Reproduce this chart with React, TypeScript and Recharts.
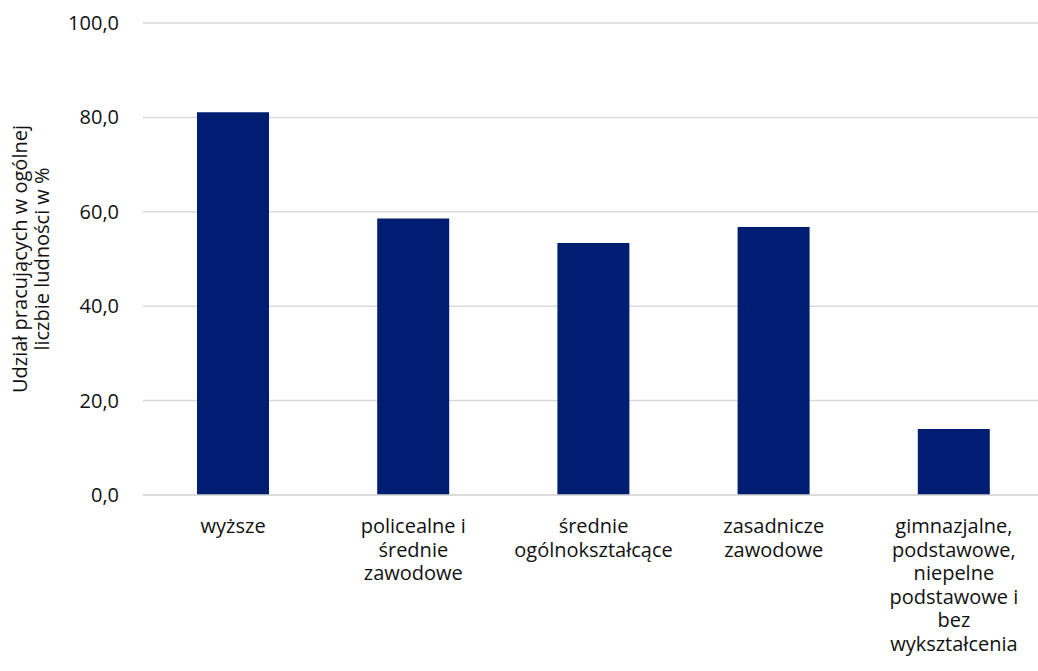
import { BarChart, Bar, XAxis, YAxis, CartesianGrid } from "recharts"

const categories = [
  "wyższe",
  "policealne i średnie zawodowe",
  "średnie ogólnokształcące",
  "zasadnicze zawodowe",
  "gimnazjalne, podstawowe, niepelne podstawowe i bez wykształcenia",
]
const categoryLines = [
  ["wyższe"],
  ["policealne i", "średnie", "zawodowe"],
  ["średnie", "ogólnokształcące"],
  ["zasadnicze", "zawodowe"],
  ["gimnazjalne,", "podstawowe,", "niepelne", "podstawowe i", "bez", "wykształcenia"],
]
const shares = [81.1, 58.6, 53.4, 56.8, 14.0]
const yTicks = [0, 20, 40, 60, 80, 100]
const yLabelLines = ["Udział pracujących w ogólnej", "liczbie ludności w %"]

const data = categories.map((name, i) => ({ name, value: shares[i] }))

const FONT = "'Open Sans', sans-serif"
const TEXT = "#111"

function XTick({ x, y, index }: any) {
  const lines = categoryLines[index] || []
  return (
    <g>
      {lines.map((l, i) => (
        <text
          key={i}
          x={x}
          y={y + 38 + i * 23.6}
          textAnchor="middle"
          fill={TEXT}
          fontSize={20}
          fontFamily={FONT}
        >
          {l}
        </text>
      ))}
    </g>
  )
}

function YTick({ x, y, payload }: any) {
  return (
    <text x={x - 24} y={y} dy={7} textAnchor="end" fill={TEXT} fontSize={20} fontFamily={FONT}>
      {payload.value.toFixed(1).replace(".", ",")}
    </text>
  )
}

function YLabel({ viewBox }: any) {
  const cy = viewBox.y + viewBox.height / 2
  return (
    <g>
      {yLabelLines.map((l, i) => {
        const cx = 27 + i * 22
        return (
          <text
            key={i}
            x={cx}
            y={cy}
            transform={`rotate(-90 ${cx} ${cy})`}
            textAnchor="middle"
            fill={TEXT}
            fontSize={20}
            fontFamily={FONT}
          >
            {l}
          </text>
        )
      })}
    </g>
  )
}

export default function App() {
  return (
    <div
      style={{
        position: "absolute",
        left: 0,
        top: 0,
        width: 1038,
        height: 671,
        overflow: "hidden",
        background: "#fff",
      }}
    >
      <BarChart width={1044} height={671} data={data} margin={{ top: 23, right: 0, left: 0, bottom: 0 }}>
        <CartesianGrid vertical={false} stroke="#d9d9d9" strokeWidth={1.5} />
        <XAxis
          dataKey="name"
          height={176}
          interval={0}
          tickLine={false}
          tickSize={0}
          tickMargin={0}
          axisLine={{ stroke: "#d9d9d9", strokeWidth: 1.5 }}
          tick={<XTick />}
        />
        <YAxis
          width={143}
          domain={[0, 100]}
          ticks={yTicks}
          tickLine={false}
          tickSize={0}
          tickMargin={0}
          axisLine={false}
          tick={<YTick />}
          label={{ content: <YLabel /> }}
        />
        <Bar dataKey="value" fill="#001E71" barSize={72} isAnimationActive={false} />
      </BarChart>
    </div>
  )
}
